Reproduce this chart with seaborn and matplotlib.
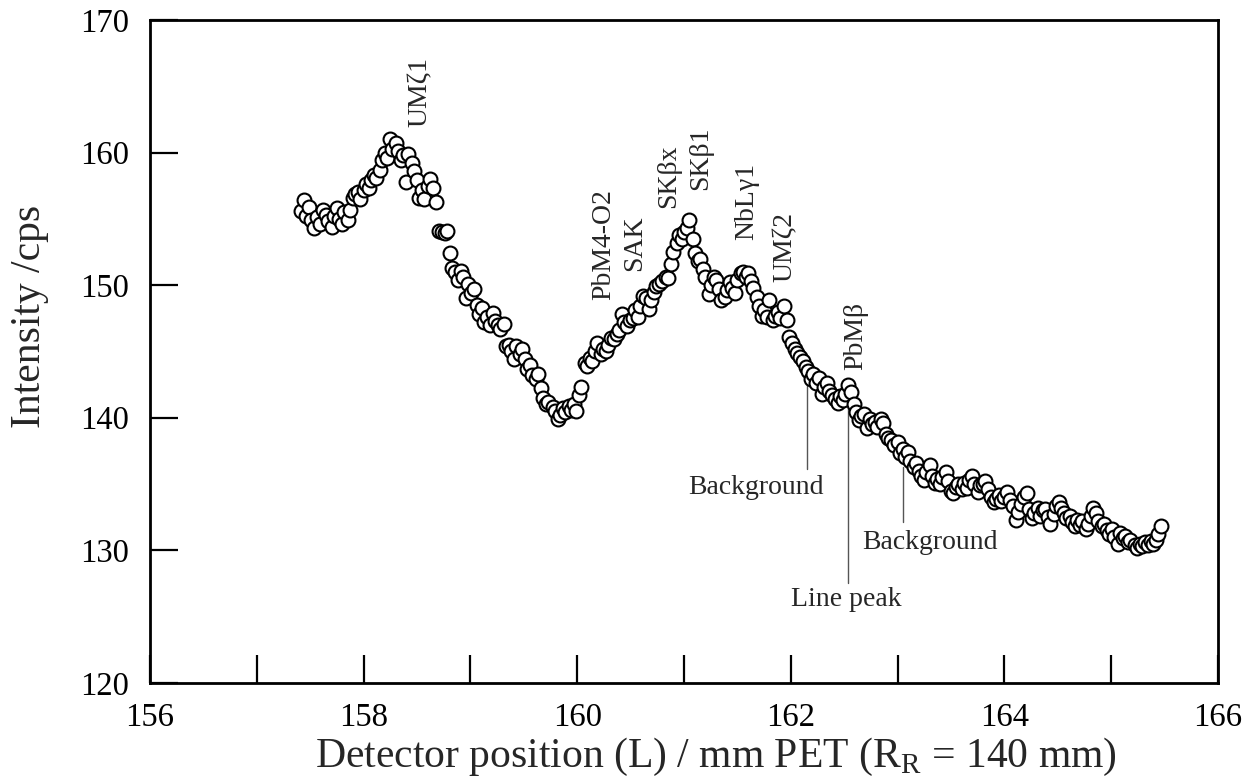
import matplotlib
matplotlib.use("Agg")
import matplotlib.pyplot as plt
import seaborn as sns
import pandas as pd
from matplotlib.ticker import MultipleLocator

sns.set_theme(style="ticks")
plt.rcParams["font.family"] = ["Liberation Serif", "DejaVu Serif"]
plt.rcParams["mathtext.fontset"] = "custom"
plt.rcParams["mathtext.rm"] = "Liberation Serif"

# scan data
position = [
    157.41, 157.44, 157.46, 157.49, 157.51, 157.54, 157.56, 157.59, 157.62, 157.65,
    157.67, 157.70, 157.72, 157.75, 157.77, 157.80, 157.82, 157.85, 157.87, 157.90,
    157.92, 157.95, 157.97, 158.00, 158.02, 158.05, 158.07, 158.10, 158.12, 158.15,
    158.17, 158.20, 158.22, 158.25, 158.27, 158.30, 158.32, 158.35, 158.37, 158.40,
    158.42, 158.45, 158.47, 158.50, 158.52, 158.55, 158.57, 158.60, 158.62, 158.65,
    158.68, 158.71, 158.73, 158.76, 158.78, 158.81, 158.83, 158.86, 158.88, 158.91,
    158.93, 158.96, 158.98, 159.01, 159.03, 159.06, 159.08, 159.11, 159.13, 159.16,
    159.18, 159.21, 159.23, 159.26, 159.28, 159.31, 159.33, 159.36, 159.38, 159.41,
    159.43, 159.46, 159.48, 159.51, 159.53, 159.56, 159.58, 159.61, 159.63, 159.66,
    159.68, 159.71, 159.73, 159.77, 159.79, 159.82, 159.84, 159.87, 159.89, 159.92,
    159.94, 159.97, 159.99, 160.02, 160.04, 160.07, 160.09, 160.12, 160.14, 160.17,
    160.19, 160.22, 160.24, 160.27, 160.29, 160.32, 160.34, 160.37, 160.39, 160.42,
    160.44, 160.47, 160.49, 160.52, 160.54, 160.57, 160.59, 160.62, 160.64, 160.67,
    160.69, 160.72, 160.74, 160.77, 160.79, 160.83, 160.85, 160.88, 160.90, 160.93,
    160.95, 160.98, 161.00, 161.03, 161.05, 161.08, 161.10, 161.13, 161.15, 161.18,
    161.20, 161.23, 161.25, 161.28, 161.30, 161.33, 161.35, 161.38, 161.40, 161.43,
    161.45, 161.48, 161.50, 161.53, 161.55, 161.58, 161.60, 161.63, 161.65, 161.68,
    161.70, 161.73, 161.75, 161.78, 161.80, 161.83, 161.85, 161.88, 161.90, 161.94,
    161.96, 161.98, 162.01, 162.04, 162.06, 162.09, 162.11, 162.14, 162.16, 162.19,
    162.21, 162.24, 162.26, 162.29, 162.31, 162.34, 162.36, 162.39, 162.41, 162.44,
    162.46, 162.49, 162.51, 162.54, 162.56, 162.59, 162.61, 162.64, 162.66, 162.69,
    162.71, 162.74, 162.76, 162.79, 162.81, 162.84, 162.86, 162.89, 162.91, 162.94,
    162.97, 163.00, 163.02, 163.05, 163.07, 163.10, 163.12, 163.15, 163.17, 163.20,
    163.22, 163.25, 163.27, 163.30, 163.32, 163.35, 163.37, 163.40, 163.42, 163.45,
    163.47, 163.50, 163.52, 163.55, 163.57, 163.60, 163.62, 163.65, 163.67, 163.70,
    163.72, 163.75, 163.77, 163.80, 163.82, 163.85, 163.87, 163.90, 163.92, 163.95,
    163.97, 164.00, 164.02, 164.05, 164.08, 164.11, 164.13, 164.16, 164.18, 164.21,
    164.23, 164.26, 164.28, 164.31, 164.33, 164.36, 164.38, 164.41, 164.43, 164.46,
    164.48, 164.51, 164.53, 164.56, 164.58, 164.61, 164.63, 164.66, 164.68, 164.71,
    164.73, 164.76, 164.78, 164.81, 164.83, 164.86, 164.88, 164.91, 164.93, 164.96,
    164.98, 165.01, 165.03, 165.06, 165.08, 165.11, 165.13, 165.16, 165.18, 165.22,
    165.24, 165.27, 165.29, 165.32, 165.34, 165.37, 165.39, 165.42, 165.44, 165.47,
]
intensity = [
    155.6, 156.4, 155.2, 155.9, 154.9, 154.3, 155.1, 154.6, 155.7, 155.3,
    154.8, 154.4, 155.2, 155.8, 155.0, 154.6, 155.5, 154.9, 155.7, 156.6,
    156.9, 157.0, 156.5, 157.2, 157.6, 157.3, 157.9, 158.3, 158.1, 158.7,
    159.4, 160.0, 159.6, 161.0, 160.3, 160.7, 160.1, 159.4, 159.8, 157.8,
    159.9, 159.2, 158.6, 157.9, 156.6, 157.2, 156.5, 157.5, 158.0, 157.3,
    156.3, 154.1, 154.0, 153.9, 154.1, 152.4, 151.3, 151.0, 150.4, 151.1,
    150.6, 149.0, 150.1, 149.4, 149.7, 148.5, 147.8, 148.3, 147.2, 147.6,
    147.0, 147.9, 147.3, 147.0, 146.7, 147.1, 145.4, 145.5, 145.0, 144.4,
    145.4, 144.8, 145.2, 144.4, 143.7, 144.0, 143.2, 142.9, 143.3, 142.2,
    141.5, 141.0, 141.2, 140.8, 140.5, 139.9, 140.2, 140.7, 140.4, 140.9,
    140.6, 141.0, 140.5, 141.7, 142.3, 144.1, 143.9, 144.5, 144.3, 145.0,
    145.6, 144.8, 145.2, 145.0, 145.5, 146.0, 145.9, 146.3, 146.6, 147.8,
    147.2, 146.9, 147.4, 147.5, 148.1, 147.6, 148.4, 149.2, 149.0, 148.2,
    148.9, 149.5, 149.9, 150.1, 150.3, 150.6, 150.5, 151.6, 152.5, 153.2,
    153.8, 153.5, 154.0, 154.3, 154.9, 153.5, 152.4, 151.8, 152.0, 151.2,
    150.6, 149.3, 150.0, 150.6, 150.4, 149.7, 148.9, 149.1, 149.6, 150.2,
    149.8, 149.4, 150.4, 150.9, 151.0, 150.6, 150.9, 150.3, 149.8, 149.1,
    148.4, 147.7, 148.1, 147.6, 148.9, 147.4, 147.7, 148.0, 147.5, 148.4,
    147.4, 146.1, 145.6, 145.2, 144.9, 144.6, 144.3, 143.8, 143.5, 142.9,
    143.3, 142.6, 143.0, 141.8, 142.3, 142.6, 142.0, 141.7, 141.4, 141.1,
    141.6, 141.3, 141.8, 142.5, 141.9, 141.0, 140.4, 139.8, 140.1, 140.3,
    139.2, 139.9, 139.5, 139.7, 139.3, 139.9, 139.6, 138.8, 138.5, 138.3,
    137.9, 138.2, 137.3, 137.6, 137.0, 137.4, 136.7, 136.3, 136.6, 136.0,
    135.6, 135.3, 135.9, 136.4, 135.6, 135.1, 135.4, 135.0, 135.5, 135.9,
    135.2, 134.5, 134.3, 134.8, 135.0, 134.6, 135.1, 134.7, 135.3, 135.6,
    135.0, 134.4, 134.9, 135.0, 135.2, 134.6, 134.0, 133.6, 133.9, 134.2,
    133.7, 134.0, 134.4, 133.8, 133.3, 132.3, 132.9, 133.5, 134.0, 134.3,
    133.1, 132.4, 132.8, 133.2, 132.6, 133.0, 133.1, 132.5, 132.0, 132.7,
    133.3, 133.6, 133.2, 132.8, 132.4, 132.6, 132.1, 131.8, 132.3, 131.9,
    132.2, 131.6, 132.0, 132.6, 133.2, 132.8, 132.2, 131.8, 132.0, 131.5,
    131.2, 131.6, 131.0, 130.5, 131.3, 130.9, 131.1, 130.6, 130.8, 130.4,
    130.2, 130.5, 130.3, 130.6, 130.4, 130.7, 130.5, 130.8, 131.2, 131.8,
]

# line labels (text, x, bottom of text)
line_names = ["UMζ1", "PbM4-O2", "SAK", "SKβx", "SKβ1", "NbLγ1", "UMζ2", "PbMβ"]
line_x = [158.53, 160.25, 160.54, 160.86, 161.16, 161.59, 161.95, 162.61]
line_y = [161.9, 148.9, 151.1, 155.8, 157.2, 153.4, 150.2, 143.6]

# measurement positions: marker line x, line top, line bottom, label x, label y
mark_names = ["Background", "Line peak", "Background"]
mark_x = [162.15, 162.54, 163.05]
mark_top = [142.4, 141.6, 136.3]
mark_bottom = [136.1, 127.5, 132.1]
mark_label_x = [161.67, 162.52, 163.30]
mark_label_y = [134.7, 126.3, 130.6]

df = pd.DataFrame({"pos": position, "cps": intensity})

fig = plt.figure(figsize=(12.5, 7.83), dpi=100)
ax = fig.add_axes([0.12, 0.128, 0.8544, 0.8465])

sns.scatterplot(data=df, x="pos", y="cps", ax=ax, marker="o", s=100,
                facecolor="white", edgecolor="black", linewidth=1.5, zorder=3)

for name, x, y in zip(line_names, line_x, line_y):
    ax.text(x, y, name, rotation=90, ha="center", va="bottom", fontsize=20)

for name, x, y0, y1, lx, ly in zip(mark_names, mark_x, mark_top, mark_bottom,
                                   mark_label_x, mark_label_y):
    ax.plot([x, x], [y0, y1], color="#555555", lw=1.0, zorder=2)
    ax.text(lx, ly, name, ha="center", va="center", fontsize=20)

ax.set_xlim(156, 166)
ax.set_ylim(120, 170)
ax.xaxis.set_major_locator(MultipleLocator(2))
ax.xaxis.set_minor_locator(MultipleLocator(1))
ax.yaxis.set_major_locator(MultipleLocator(10))
ax.tick_params(axis="both", which="both", direction="in", length=20, width=1.6,
               labelsize=23.5, top=False, right=False, colors="black")
ax.tick_params(axis="x", pad=14)
ax.tick_params(axis="y", pad=15)

for sp in ax.spines.values():
    sp.set_visible(True)
    sp.set_linewidth(2.0)
    sp.set_color("black")

ax.set_xlabel("Detector position (L) / mm PET (R$_\\mathrm{R}$ = 140 mm)",
              fontsize=30)
ax.set_ylabel("Intensity /cps", fontsize=30)
ax.xaxis.set_label_coords(0.53, -0.112)
ax.xaxis.label.set_va("center")
ax.yaxis.set_label_coords(-0.113, 0.552)
ax.yaxis.label.set_va("center")

fig.savefig("out.png", dpi=100, facecolor="white")
